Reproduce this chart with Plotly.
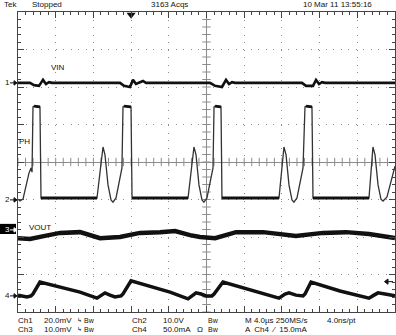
import numpy as np
import plotly.graph_objects as go

# ---- data (time in microseconds, level in screen divisions) ----
vin_t = [-20, -18.73, -18.30, -17.77, -17.56, -17.35, -17.03, -16.71, -16.39, -9.18, -8.75, -8.12,
         -7.80, -7.48, -6.74, -6.42, 0.37, 0.91, 1.64, 2.07, 2.39, 2.71, 3.02, 10.13, 10.56, 11.30,
         11.62, 11.94, 12.26, 12.57, 20]
vin_v = [2.11, 2.11, 2.05, 2.03, 2.11, 2.19, 2.08, 2.13, 2.11, 2.11, 2.03, 2.00,
         2.19, 2.08, 2.16, 2.11, 2.11, 2.03, 2.00, 2.19, 2.08, 2.13, 2.11, 2.11, 2.03, 2.03,
         2.19, 2.08, 2.13, 2.11, 2.11]

ph_t = [-20, -19.79, -19.47, -19.15, -18.83, -18.62, -18.51, -18.41, -18.30, -17.67, -17.56,
        -11.62, -11.30, -10.98, -10.77, -10.45, -10.13, -9.92, -9.60, -9.28, -8.97, -8.86, -8.75,
        -8.01, -7.90, -1.96, -1.64, -1.33, -1.11, -0.80, -0.48, -0.27, 0.05, 0.37, 0.69, 0.80,
        0.91, 1.54, 1.64, 7.69, 8.01, 8.22, 8.44, 8.75, 9.07, 9.28, 9.60, 9.92, 10.24, 10.45,
        10.56, 11.19, 11.30, 17.24, 17.45, 17.66, 17.88, 18.20, 18.51, 18.73, 19.15, 19.58, 20.0]
ph_v = [-0.99, -1.04, -0.99, -0.61, -0.29, -0.16, -0.27, 1.47, 1.49, 1.47, -0.96,
        -0.96, -0.21, 0.40, 0.19, -0.61, -1.01, -1.07, -0.96, -0.53, -0.16, 1.47, 1.49,
        1.47, -0.96, -0.96, -0.21, 0.40, 0.19, -0.61, -1.01, -1.07, -0.96, -0.53, -0.16, 1.47,
        1.49, 1.47, -0.96, -0.96, -0.21, 0.40, 0.19, -0.61, -1.01, -1.07, -0.96, -0.53, -0.16, 1.47,
        1.49, 1.47, -0.96, -0.96, -0.21, 0.40, 0.19, -0.61, -0.99, -1.04, -0.93, -0.53, -0.11]

vout_t = [-20, -18.73, -17.14, -15.54, -13.42, -11.30, -9.18, -7.06, -4.93, -3.34, -1.75, -0.69,
          0.91, 3.13, 6.00, 9.49, 12.36, 14.80, 17.24, 20.0]
vout_v = [-2.03, -2.05, -1.97, -1.89, -1.87, -2.03, -2.00, -1.89, -1.87, -1.84, -1.95, -2.00,
          -2.03, -1.87, -1.87, -1.97, -1.89, -1.87, -1.92, -2.03]

il_t = [-20, -19.58, -19.05, -18.62, -18.41, -17.67, -15.54, -13.42, -11.62, -11.19, -10.77,
        -10.24, -9.71, -9.07, -8.86, -8.01, -5.99, -3.87, -1.96, -1.54, -1.11, -0.58, -0.05,
        0.58, 0.80, 1.75, 4.62, 7.69, 8.33, 8.75, 9.49, 10.24, 10.45, 11.09, 14.16, 17.24,
        17.77, 18.20, 18.94, 20.0]
il_v = [-3.55, -3.57, -3.60, -3.57, -3.52, -3.20, -3.33, -3.47, -3.63, -3.55, -3.49,
        -3.55, -3.60, -3.57, -3.52, -3.17, -3.31, -3.47, -3.65, -3.57, -3.49, -3.52, -3.57,
        -3.57, -3.52, -3.20, -3.41, -3.63, -3.52, -3.49, -3.55, -3.57, -3.52, -3.20, -3.44, -3.63,
        -3.55, -3.49, -3.52, -3.57]

channel_ids = ["1", "2", "3", "4"]
channel_levels = [2.11, -1.01, -1.81, -3.57]
channel_names = ["VIN", "PH", "VOUT"]
trigger_time = -8.0
trigger_level = -3.19

FONT = "Liberation Sans"
INK = "#111111"
GRID = "#8c8c8c"

W, H = 396, 335
L, R, T, B = 18, 1, 12, 23
PW, PH_ = W - L - R, H - T - B


def pxx(px):
    return (px - L) / PW


def pxy(py):
    return (T + PH_ - py) / PH_


fig = go.Figure()

# centre crosshair tick marks (graticule)
xt = np.arange(-20, 20.001, 0.8)
yt = np.arange(-4, 4.001, 0.2)
fig.add_trace(go.Scatter(x=xt, y=np.zeros_like(xt), mode="markers", hoverinfo="skip",
                         marker=dict(symbol="line-ns", size=6, line=dict(color=GRID, width=1))))
fig.add_trace(go.Scatter(x=np.zeros_like(yt), y=yt, mode="markers", hoverinfo="skip",
                         marker=dict(symbol="line-ew", size=6, line=dict(color=GRID, width=1))))

# waveforms
fig.add_trace(go.Scatter(x=vin_t, y=vin_v, mode="lines", line=dict(color=INK, width=2.6)))
fig.add_trace(go.Scatter(x=ph_t, y=ph_v, mode="lines", line=dict(color="#333333", width=1.3)))
# thicker noisy plateaus of the switch node
pt, pv = [], []
for i in range(len(ph_t) - 1):
    if abs(ph_v[i + 1] - ph_v[i]) < 0.05 and ph_t[i + 1] - ph_t[i] > 0.5:
        pt += [ph_t[i], ph_t[i + 1], None]
        pv += [ph_v[i], ph_v[i + 1], None]
fig.add_trace(go.Scatter(x=pt, y=pv, mode="lines", line=dict(color=INK, width=3)))
fig.add_trace(go.Scatter(x=vout_t, y=vout_v, mode="lines", line=dict(color=INK, width=4.5)))
fig.add_trace(go.Scatter(x=il_t, y=il_v, mode="lines", line=dict(color=INK, width=3.5)))

# trigger position marker
fig.add_trace(go.Scatter(x=[trigger_time], y=[3.93], mode="markers", cliponaxis=False,
                         marker=dict(symbol="triangle-down", size=8, color=INK)))

shapes = []
annotations = []

# channel ground markers
for cid, lvl in zip(channel_ids, channel_levels):
    col = INK
    if cid == "3":
        shapes.append(dict(type="rect", xref="paper", yref="y", x0=pxx(0), x1=pxx(16),
                           y0=lvl + 0.16, y1=lvl - 0.11, fillcolor="black", line=dict(width=0),
                           layer="above"))
        col = "white"
    shapes.append(dict(type="line", xref="paper", yref="y", x0=pxx(10), x1=pxx(16.5),
                       y0=lvl, y1=lvl, line=dict(color=col, width=1), layer="above"))
    shapes.append(dict(type="path", xref="paper", yref="y",
                       path=f"M{pxx(14)},{lvl + 0.06} L{pxx(17)},{lvl} L{pxx(14)},{lvl - 0.06} Z",
                       fillcolor=col, line=dict(color=col, width=1), layer="above"))
    annotations.append(dict(text=cid, xref="paper", yref="y", x=pxx(7), y=lvl, showarrow=False,
                            xanchor="center", yanchor="middle", borderpad=0,
                            font=dict(family=FONT, size=8, color=col)))

# trigger level arrow (right edge)
shapes.append(dict(type="line", xref="paper", yref="y", x0=pxx(385), x1=pxx(393),
                   y0=trigger_level, y1=trigger_level, line=dict(color=INK, width=1)))
shapes.append(dict(type="path", xref="paper", yref="y",
                   path=f"M{pxx(388)},{trigger_level + 0.07} L{pxx(384.5)},{trigger_level} "
                        f"L{pxx(388)},{trigger_level - 0.07} Z",
                   fillcolor=INK, line=dict(color=INK, width=1)))

texts = [
    ("Tek", 3, 5, 8), ("Stopped", 31, 5, 8), ("3163 Acqs", 150, 5, 8),
    ("10 Mar 11 13:55:16", 302, 5, 8),
    ("VIN", 50, 67, 8), ("PH", 18, 141, 8), ("VOUT", 28, 227, 8),
    ("Ch1", 17, 320, 8), ("20.0mV", 43, 320, 8), ("↳", 76, 320, 6), ("Bw", 83, 320, 7),
    ("Ch2", 131, 320, 8), ("10.0V", 162, 320, 8), ("Bw", 207, 320, 7),
    ("M 4.0µs 250MS/s", 244, 320, 8), ("4.0ns/pt", 326, 320, 8),
    ("Ch3", 17, 329, 8), ("10.0mV", 43, 329, 8), ("↳", 76, 329, 6), ("Bw", 83, 329, 7),
    ("Ch4", 131, 329, 8), ("50.0mA", 162, 329, 8), ("Ω", 196, 329, 8), ("Bw", 207, 329, 7),
    ("A  Ch4  ⁄  15.0mA", 244, 329, 8),
]
for txt, x, y, s in texts:
    annotations.append(dict(text=txt, xref="paper", yref="paper", x=pxx(x), y=pxy(y),
                            xanchor="left", yanchor="middle", showarrow=False, borderpad=0,
                            font=dict(family=FONT, size=s, color=INK)))

axis_common = dict(showticklabels=False, showline=True, linecolor="#444444", linewidth=1,
                   mirror="ticks", ticks="inside", tickcolor="#444444", ticklen=6, tickwidth=1,
                   showgrid=True, gridcolor=GRID, gridwidth=1, zeroline=True,
                   zerolinecolor=GRID, zerolinewidth=1, fixedrange=True)

fig.update_layout(
    width=W, height=H, margin=dict(l=L, r=R, t=T, b=B, pad=0),
    paper_bgcolor="white", plot_bgcolor="white", showlegend=False,
    font=dict(family=FONT, size=8, color=INK),
    xaxis=dict(range=[-20, 20], tickmode="linear", tick0=0, dtick=4, griddash="1px,6.54px",
               minor=dict(dtick=0.8, tick0=0, ticks="inside", ticklen=3, tickcolor="#444444",
                          showgrid=False), **axis_common),
    yaxis=dict(range=[-4, 4], tickmode="linear", tick0=0, dtick=1, griddash="1px,6.5px",
               minor=dict(dtick=0.2, tick0=0, ticks="inside", ticklen=3, tickcolor="#444444",
                          showgrid=False), **axis_common),
    shapes=shapes, annotations=annotations,
)

fig.write_html("out.html")
